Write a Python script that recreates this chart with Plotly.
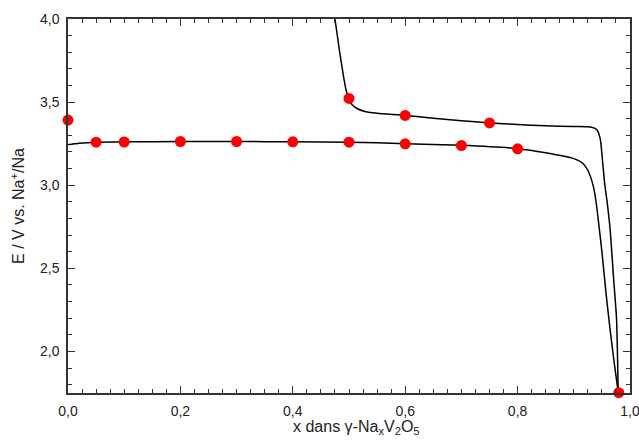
import plotly.graph_objects as go

# Discharge curve (lower)
dis_x = [0.0, 0.0, 0.02, 0.05, 0.1, 0.2, 0.3, 0.4, 0.5, 0.6, 0.7, 0.8, 0.85, 0.9, 0.915, 0.925,
         0.935, 0.94, 0.945, 0.95, 0.958, 0.965, 0.972, 0.979]
dis_y = [3.25, 3.245, 3.252, 3.258, 3.261, 3.263, 3.263, 3.261, 3.259, 3.25, 3.24, 3.22, 3.195,
         3.16, 3.135, 3.09, 2.99, 2.89, 2.75, 2.60, 2.33, 2.12, 1.93, 1.755]

# Charge curve (upper)
ch_x = [0.979, 0.976, 0.971, 0.965, 0.96, 0.955, 0.951, 0.947, 0.941, 0.93, 0.9, 0.85, 0.8, 0.75,
        0.7, 0.65, 0.6, 0.55, 0.53, 0.515, 0.507, 0.502, 0.4985, 0.495, 0.49, 0.483, 0.475, 0.47]
ch_y = [1.755, 2.2, 2.43, 2.72, 2.88, 3.01, 3.15, 3.28, 3.334, 3.350, 3.353, 3.358, 3.365, 3.375,
        3.388, 3.403, 3.42, 3.433, 3.442, 3.46, 3.48, 3.50, 3.53, 3.57, 3.66, 3.81, 4.0, 4.1]

# Red markers
pt_x = [0.0, 0.05, 0.1, 0.2, 0.3, 0.4, 0.5, 0.6, 0.7, 0.8, 0.98, 0.5, 0.6, 0.75]
pt_y = [3.392, 3.259, 3.26, 3.263, 3.263, 3.261, 3.259, 3.249, 3.239, 3.219, 1.752, 3.522, 3.42, 3.375]

# Tick values
x_ticks = [0.0, 0.2, 0.4, 0.6, 0.8, 1.0]
y_ticks = [2.0, 2.5, 3.0, 3.5, 4.0]

x_title = "x dans γ-Na<sub>x</sub>V<sub>2</sub>O<sub>5</sub>"
y_title = "E / V vs. Na<sup>+</sup>/Na"

fig = go.Figure()
fig.add_trace(go.Scatter(x=dis_x, y=dis_y, mode="lines",
                         line=dict(color="black", width=1.5, shape="spline", smoothing=0.6),
                         showlegend=False))
fig.add_trace(go.Scatter(x=ch_x, y=ch_y, mode="lines",
                         line=dict(color="black", width=1.5, shape="spline", smoothing=0.6),
                         showlegend=False))
fig.add_trace(go.Scatter(x=pt_x, y=pt_y, mode="markers",
                         marker=dict(color="#ff0000", size=11), cliponaxis=False,
                         showlegend=False))

FONT = "Liberation Sans, Arial, sans-serif"
axis_common = dict(
    showline=True, linecolor="#333333", linewidth=1.5, mirror="allticks",
    ticks="inside", ticklen=7, tickwidth=1.2, tickcolor="#333333",
    showgrid=False, zeroline=False, automargin=False, ticklabeloverflow="allow",
    tickfont=dict(family=FONT, size=14, color="#222222"),
)

fig.update_xaxes(range=[0, 1.0], tickmode="array", tickvals=x_ticks, tickformat=".1f",
                 ticklabelstandoff=4,
                 minor=dict(dtick=0.025, ticks="inside", ticklen=4, tickcolor="#333333", tickwidth=1),
                 **axis_common)
fig.update_yaxes(range=[1.75, 4.0], tickmode="array", tickvals=y_ticks, tickformat=".1f",
                 ticklabelstandoff=4,
                 minor=dict(dtick=0.1, tick0=2.0, ticks="inside", ticklen=4, tickcolor="#333333", tickwidth=1),
                 title=dict(text=y_title,
                            font=dict(family=FONT, size=16, color="#222222"),
                            standoff=11),
                 **axis_common)

fig.add_annotation(text=x_title, xref="paper", yref="paper", x=0.514, y=-(439 - 393) / 374,
                   xanchor="center", yanchor="bottom", showarrow=False,
                   font=dict(family=FONT, size=16, color="#222222"))

fig.update_layout(width=639, height=441, separators=", ",
                  margin=dict(l=68, r=9, t=19, b=48),
                  plot_bgcolor="white", paper_bgcolor="white")

fig.write_html("out.html", config={"displayModeBar": False},
               post_script="document.body.style.margin='0';document.body.style.overflow='hidden';")
